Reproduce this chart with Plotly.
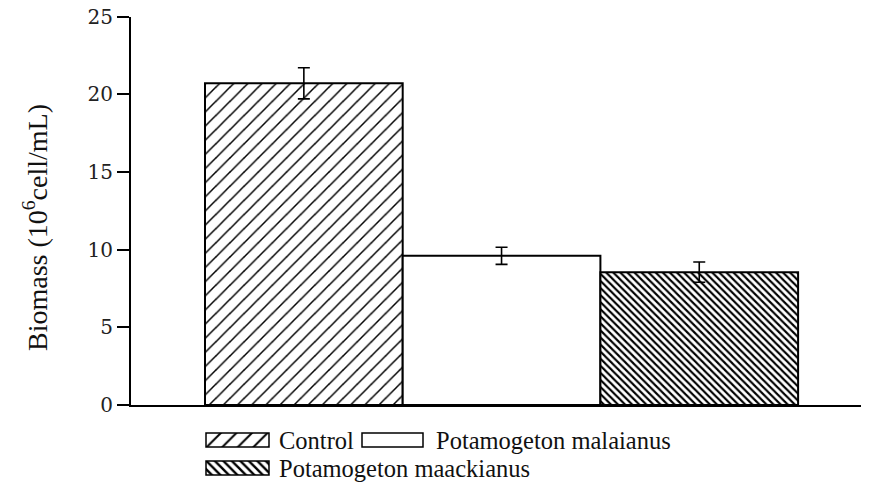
import plotly.graph_objects as go

categories = ["Control", "Potamogeton malaianus", "Potamogeton maackianus"]
biomass = [20.7, 9.6, 8.55]
errors = [1.0, 0.55, 0.65]
pattern_shapes = ["/", "", "\\"]
y_ticks = [0, 5, 10, 15, 20, 25]

# The page shows the figure offset by 8px and 853px wide; work in screen pixels.
OFF = 8
FW, FH = 853, 488


def px(sx):
    return (sx - OFF) / FW


def py(sy):
    return 1 - (sy - OFF) / FH


# plot area (screen pixels)
L, R, T, B = 131, 861, 16.5, 405
BAR0_LEFT, BAR_PX = 205, 197.7

fig = go.Figure()

fig.add_trace(go.Bar(
    x=[1, 2, 3], y=biomass, width=1,
    marker=dict(color="white", line=dict(color="black", width=2),
                pattern=dict(shape=pattern_shapes, fgcolor="black", bgcolor="white",
                             size=[10, 10, 5], solidity=[0.15, 0.0, 0.42], fillmode="replace")),
    error_y=dict(type="data", array=errors, color="black", thickness=1.6, width=6),
    showlegend=False, hoverinfo="skip",
))

# legend swatches (custom, on a hidden screen-pixel axis)
sw_left = [206, 362, 206]
sw_width = [63, 61, 63]
sw_center = [440, 440, 468]
fig.add_trace(go.Bar(
    x=sw_width, base=sw_left, y=sw_center, width=14, orientation="h",
    xaxis="x2", yaxis="y2",
    marker=dict(color="white", line=dict(color="black", width=1.5),
                pattern=dict(shape=pattern_shapes, fgcolor="black", bgcolor="white",
                             size=[11, 10, 6], solidity=[0.18, 0.0, 0.4], fillmode="replace")),
    showlegend=False, hoverinfo="skip",
))

text_x = [277, 434, 277]
for name, tx, ty in zip(categories, text_x, sw_center):
    fig.add_annotation(text=name, x=px(tx), y=py(ty), xref="paper", yref="paper",
                       xanchor="left", yanchor="middle", showarrow=False,
                       font=dict(family="Liberation Serif", size=24.5, color="#111"))

fig.add_annotation(text="Biomass (10<sup>6</sup>cell/mL)", textangle=-90,
                   x=px(36), y=py(228), xref="paper", yref="paper",
                   xanchor="center", yanchor="middle", showarrow=False,
                   font=dict(family="Liberation Serif", size=28, color="#111"))

x_lo = 0.5 - (BAR0_LEFT - L) / BAR_PX
x_hi = 0.5 + (R - BAR0_LEFT) / BAR_PX

fig.update_layout(
    template="none",
    width=FW, height=FH, margin=dict(l=0, r=0, t=0, b=0, pad=0, autoexpand=False),
    paper_bgcolor="white", plot_bgcolor="rgba(0,0,0,0)",
    font=dict(family="Liberation Serif", color="#111"),
    xaxis=dict(domain=[px(L), px(R)], range=[x_lo, x_hi], showticklabels=False,
               ticks="", showgrid=False, zeroline=False, showline=True, automargin=False,
               linecolor="black", linewidth=2, anchor="y"),
    yaxis=dict(domain=[py(B), py(T)], range=[0, 25], tickvals=y_ticks,
               ticks="outside", ticklen=12, tickwidth=1.6, tickcolor="black",
               showgrid=False, zeroline=False, showline=True, linecolor="black",
               linewidth=2, anchor="x", automargin=False, ticklabeloverflow="allow",
               tickfont=dict(family="DejaVu Serif", size=20, color="#222")),
    xaxis2=dict(domain=[0, 1], range=[OFF, OFF + FW], visible=False, anchor="y2", automargin=False),
    yaxis2=dict(domain=[0, 1], range=[OFF + FH, OFF], visible=False, anchor="x2", automargin=False),
)

fig.write_html("out.html")
